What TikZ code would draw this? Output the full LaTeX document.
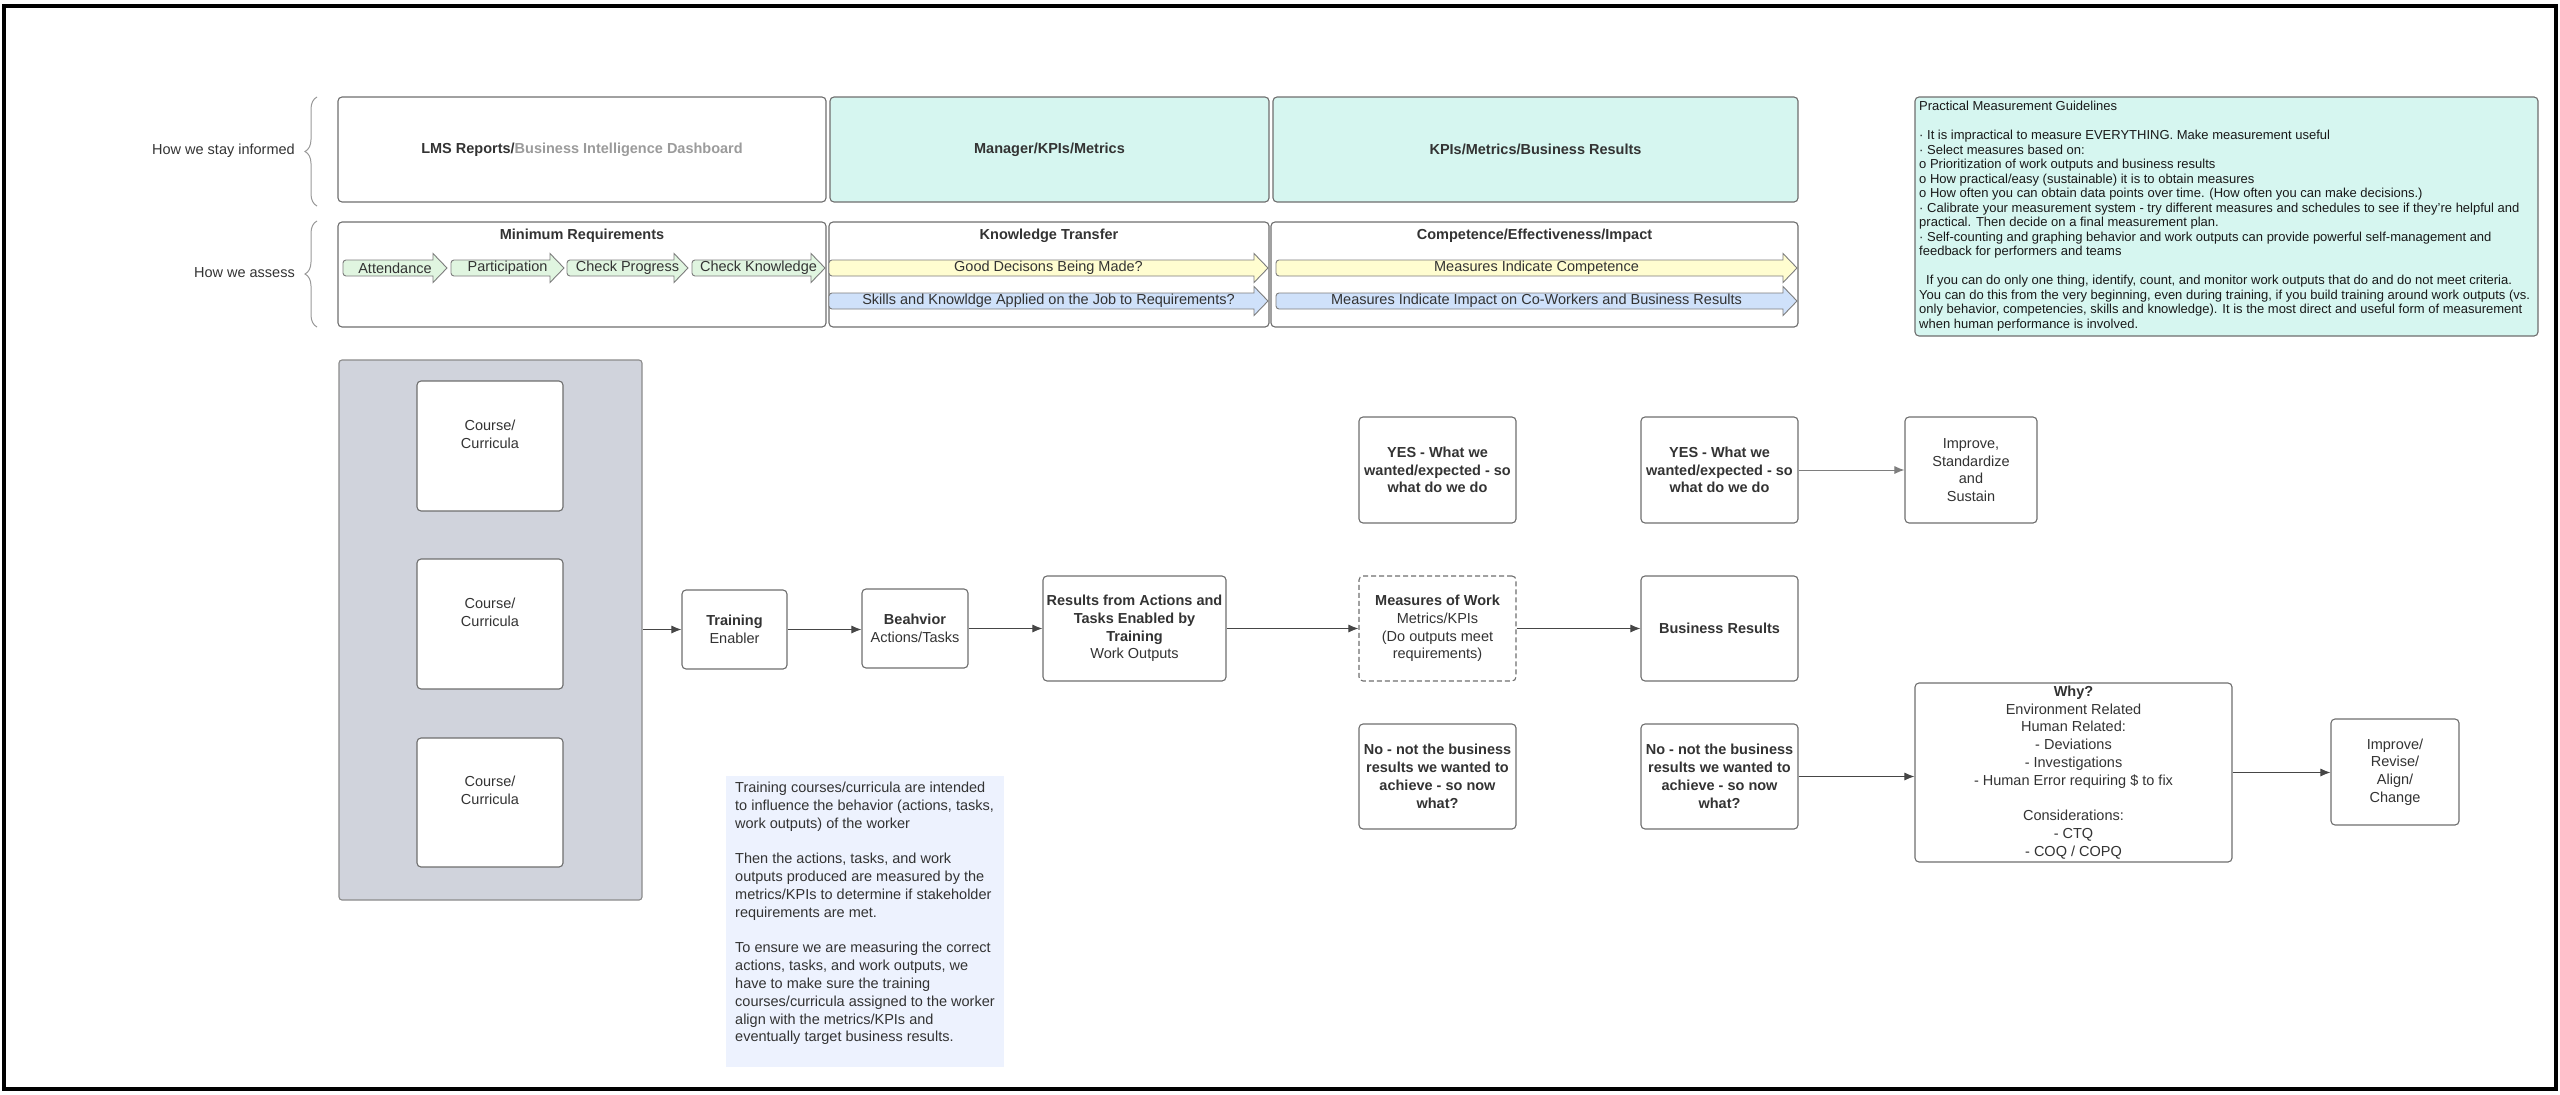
\documentclass[tikz,border=0pt]{standalone}
\usepackage{fontspec}
\setmainfont{Liberation Sans}
\usetikzlibrary{arrows.meta,decorations.pathreplacing,calc}
\definecolor{txt}{RGB}{51,51,51}
\definecolor{gtxt}{RGB}{25,25,25}
\definecolor{bord}{RGB}{110,110,110}
\definecolor{mint}{RGB}{214,246,240}
\definecolor{graybg}{RGB}{208,211,220}
\definecolor{greenf}{RGB}{224,245,224}
\definecolor{yellowf}{RGB}{255,253,208}
\definecolor{bluef}{RGB}{207,225,250}
\definecolor{notef}{RGB}{237,242,254}
\definecolor{dimtxt}{RGB}{155,155,155}
\definecolor{arrc}{RGB}{70,70,70}
\newcommand\fmain{\fontsize{14.5pt}{17.8pt}\selectfont}
\newcommand\fguide{\fontsize{13pt}{14.5pt}\selectfont}
\newcommand\mkbox[7]{%
  \node[#2, minimum width={(#5-#3)*1pt}, minimum height={(#6-#4)*1pt}] (#1) at ({(#3+#5)/2},{(#4+#6)/2}) {#7};}
\newcommand\fatarr[6]{%
  \filldraw[fat, fill=#5] ({#2+4},{#4-8}) -- ({#3-14},{#4-8}) -- ({#3-14},{#4-14.5}) -- (#3,#4) -- ({#3-14},{#4+14.5}) -- ({#3-14},{#4+8}) [rounded corners=3pt] -- (#2,{#4+8}) -- (#2,{#4-8}) [sharp corners] -- cycle;
  \node[arrtxt] (#1) at ({(#2+#3)/2},#4) {#6};}
\tikzset{
  box/.style={draw=bord, line width=1.1pt, rounded corners=4pt, fill=white, align=center, text=txt, font=\fmain, inner sep=2pt},
  mintbox/.style={box, fill=mint},
  dashbox/.style={box, dash pattern=on 5pt off 3pt},
  contbox/.style={box, fill=graybg, draw=bord!80, rounded corners=3pt},
  notebox/.style={fill=notef, inner sep=0},
  link/.style={draw=arrc, line width=1pt, -{Latex[length=10pt,width=8pt]}},
  lightlink/.style={link, draw=arrc!70},
  lbl/.style={text=txt, font=\fmain, inner sep=0},
  brc/.style={draw=bord!70, line width=1pt, decorate, decoration={brace, amplitude=12pt}},
  fat/.style={draw=bord!90, line width=0.9pt},
  arrtxt/.style={text=txt, font=\fmain, inner sep=0},
}
\begin{document}
\begin{tikzpicture}[x=1pt,y=-1pt]
\useasboundingbox (0,0) rectangle (2560,1095);
\draw[line width=4pt] (3.5,6) rectangle (2555.5,1089);

% braces and row labels
\draw[brc] (317,206) -- (317,97);
\draw[brc] (317,327) -- (317,221);
\node[lbl, anchor=east] (informed) at (295,151) {How we stay informed};
\node[lbl, anchor=east] (assess) at (295,273) {How we assess};

% header row
\mkbox{lms}{box}{338}{97}{826}{202}{\bfseries LMS Reports/\textcolor{dimtxt}{Business Intelligence Dashboard}}
\mkbox{mgr}{mintbox}{830}{97}{1269}{202}{\bfseries Manager/KPIs/Metrics}
\mkbox{kpi}{mintbox}{1273}{97}{1798}{202}{\bfseries KPIs/Metrics/Business Results}

% assess row
\mkbox{minreq}{box}{338}{222}{826}{327}{}
\mkbox{kt}{box}{829}{222}{1269}{327}{}
\mkbox{comp}{box}{1271}{222}{1798}{327}{}
\node[lbl, font=\fmain\bfseries] (minreqt) at (582,236) {Minimum Requirements};
\node[lbl, font=\fmain\bfseries] (ktt) at (1049,236) {Knowledge Transfer};
\node[lbl, font=\fmain\bfseries] (compt) at (1534.5,236) {Competence/Effectiveness/Impact};

\fatarr{att}{343}{447}{268}{greenf}{Attendance}
\fatarr{par}{451}{564}{268}{greenf}{Participation}
\fatarr{chp}{567}{688}{268}{greenf}{Check Progress}
\fatarr{chk}{692}{825}{268}{greenf}{Check Knowledge}
\fatarr{gdm}{829}{1268}{268}{yellowf}{Good Decisons Being Made?}
\fatarr{ska}{829}{1268}{301}{bluef}{Skills and Knowldge Applied on the Job to Requirements?}
\fatarr{mic}{1276}{1797}{268}{yellowf}{Measures Indicate Competence}
\fatarr{mii}{1276}{1797}{301}{bluef}{Measures Indicate Impact on Co-Workers and Business Results}

% guidelines
\mkbox{guide}{mintbox}{1915}{97}{2538}{336}{}
\node[anchor=north west, align=left, font=\fguide, text=gtxt, inner sep=0] (guidet) at (1919,101) {%
Practical Measurement Guidelines\\
~\\
· It is impractical to measure EVERYTHING. Make measurement useful\\
· Select measures based on:\\
o Prioritization of work outputs and business results\\
o How practical/easy (sustainable) it is to obtain measures\\
o How often you can obtain data points over time. (How often you can make decisions.)\\
· Calibrate your measurement system - try different measures and schedules to see if they’re helpful and\\
practical. Then decide on a final measurement plan.\\
· Self-counting and graphing behavior and work outputs can provide powerful self-management and\\
feedback for performers and teams\\
~\\
\hspace*{7pt}If you can do only one thing, identify, count, and monitor work outputs that do and do not meet criteria.\\
You can do this from the very beginning, even during training, if you build training around work outputs (vs.\\
only behavior, competencies, skills and knowledge). It is the most direct and useful form of measurement\\
when human performance is involved.};

% courses container
\mkbox{cont}{contbox}{339}{360}{642}{900}{}
\mkbox{c1}{box}{417}{381}{563}{511}{Course/\\Curricula\\[6pt]}
\mkbox{c2}{box}{417}{559}{563}{689}{Course/\\Curricula\\[6pt]}
\mkbox{c3}{box}{417}{738}{563}{867}{Course/\\Curricula\\[6pt]}

% flow
\mkbox{train}{box}{682}{590}{787}{669}{\textbf{Training}\\Enabler}
\mkbox{beh}{box}{862}{589}{968}{668}{\textbf{Beahvior}\\Actions/Tasks}
\mkbox{res}{box}{1043}{576}{1226}{681}{\textbf{Results from Actions and}\\\textbf{Tasks Enabled by}\\\textbf{Training}\\Work Outputs}
\mkbox{meas}{dashbox}{1359}{576}{1516}{681}{\textbf{Measures of Work}\\Metrics/KPIs\\(Do outputs meet\\requirements)}
\mkbox{bres}{box}{1641}{576}{1798}{681}{\bfseries Business Results}
\mkbox{yes1}{box}{1359}{417}{1516}{523}{\bfseries YES - What we\\\bfseries wanted/expected - so\\\bfseries what do we do}
\mkbox{yes2}{box}{1641}{417}{1798}{523}{\bfseries YES - What we\\\bfseries wanted/expected - so\\\bfseries what do we do}
\mkbox{imp1}{box}{1905}{417}{2037}{523}{Improve,\\Standardize\\and\\Sustain}
\mkbox{no1}{box}{1359}{724}{1516}{829}{\bfseries No - not the business\\\bfseries results we wanted to\\\bfseries achieve - so now\\\bfseries what?}
\mkbox{no2}{box}{1641}{724}{1798}{829}{\bfseries No - not the business\\\bfseries results we wanted to\\\bfseries achieve - so now\\\bfseries what?}
\mkbox{why}{box}{1915}{683}{2232}{862}{\textbf{Why?}\\Environment Related\\Human Related:\\- Deviations\\- Investigations\\- Human Error requiring \$ to fix\\~\\Considerations:\\- CTQ\\- COQ / COPQ}
\mkbox{imp2}{box}{2331}{719}{2459}{825}{Improve/\\Revise/\\Align/\\Change}

\draw[link] (cont.east |- train.west) -- (train.west);
\draw[link] (train.east) -- (train.east -| beh.west);
\draw[link] (beh.east) -- (beh.east -| res.west);
\draw[link] (res.east) -- (res.east -| meas.west);
\draw[link] (meas.east) -- (meas.east -| bres.west);
\draw[lightlink] (yes2.east) -- (yes2.east -| imp1.west);
\draw[link] (no2.east) -- (no2.east -| why.west);
\draw[link] (why.east) -- (why.east -| imp2.west);

% note
\mkbox{note}{notebox}{726}{776}{1004}{1067}{}
\node[anchor=north west, align=left, font=\fmain, text=txt, inner sep=0] (notet) at (735,782) {%
Training courses/curricula are intended\\
to influence the behavior (actions, tasks,\\
work outputs) of the worker\\
~\\
Then the actions, tasks, and work\\
outputs produced are measured by the\\
metrics/KPIs to determine if stakeholder\\
requirements are met.\\
~\\
To ensure we are measuring the correct\\
actions, tasks, and work outputs, we\\
have to make sure the training\\
courses/curricula assigned to the worker\\
align with the metrics/KPIs and\\
eventually target business results.};
\end{tikzpicture}
\end{document}
